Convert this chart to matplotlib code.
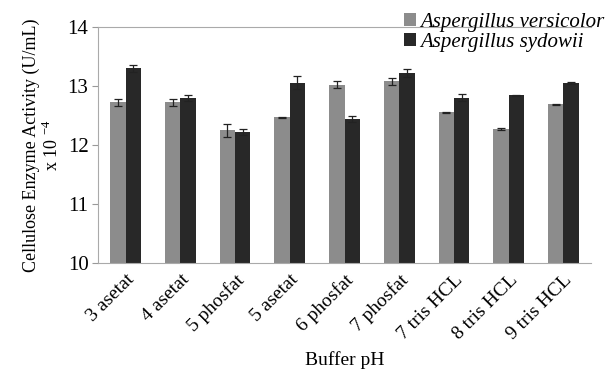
import numpy as np
import matplotlib.pyplot as plt

plt.rcParams['font.family'] = ['Liberation Serif', 'DejaVu Serif']
plt.rcParams['mathtext.fontset'] = 'custom'
plt.rcParams['mathtext.rm'] = 'Liberation Serif'

# buffer conditions and enzyme activity (x 10^-4 U/mL)
buffers = ["3 asetat", "4 asetat", "5 phosfat", "5 asetat", "6 phosfat",
           "7 phosfat", "7 tris HCL", "8 tris HCL", "9 tris HCL"]
versicolor = [12.72, 12.72, 12.25, 12.47, 13.02, 13.08, 12.55, 12.27, 12.69]
versicolor_err = [0.06, 0.06, 0.11, 0.01, 0.06, 0.06, 0.01, 0.01, 0.01]
sydowii = [13.30, 12.80, 12.22, 13.05, 12.44, 13.22, 12.80, 12.84, 13.05]
sydowii_err = [0.06, 0.05, 0.05, 0.11, 0.05, 0.065, 0.06, 0.01, 0.01]

x = np.arange(len(buffers))
w = 0.28

fig = plt.figure(figsize=(6.06, 3.74), dpi=100)
ax = fig.add_axes([0.162, 0.297, 0.813, 0.631])

ekw = dict(elinewidth=0.9, capthick=0.9, ecolor="#222222")
ax.bar(x - w/2, versicolor, w, yerr=versicolor_err, capsize=3,
       color="#8c8c8c", label="Aspergillus versicolor", error_kw=ekw)
ax.bar(x + w/2, sydowii, w, yerr=sydowii_err, capsize=3,
       color="#282828", label="Aspergillus sydowii", error_kw=ekw)

ax.set_ylim(10, 14)
ax.set_xlim(-0.5, len(buffers) - 0.5)
ax.set_yticks([10, 11, 12, 13, 14])
ax.set_xticks(x)
ax.set_xticklabels(buffers, rotation=45, ha="right", rotation_mode="anchor")
ax.tick_params(axis="x", length=0, labelsize=14, pad=6)
ax.tick_params(axis="y", length=4, color="#999999", labelsize=15, pad=3)

for s in ["left", "bottom", "top"]:
    ax.spines[s].set_color("#aaaaaa")
ax.spines["right"].set_visible(False)

ax.set_xlabel("Buffer pH", fontsize=14, labelpad=6)
ax.set_ylabel("Cellulose Enzyme Activity (U/mL)\nx 10 $^{-4}$", fontsize=13,
              linespacing=1.1)

ax.legend(loc="upper right", bbox_to_anchor=(1.065, 1.14), frameon=False,
          prop={"style": "italic", "size": 15}, handlelength=0.55,
          handleheight=0.55, handletextpad=0.2, labelspacing=0.05)

fig.savefig("out.png", dpi=100)
